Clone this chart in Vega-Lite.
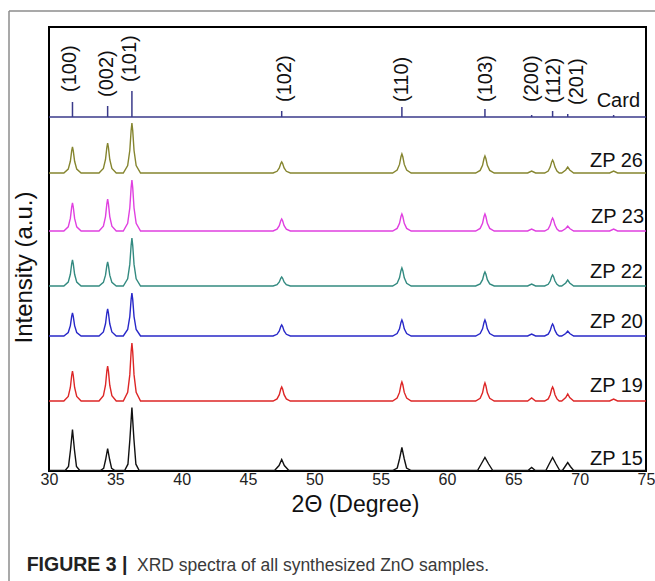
{
  "$schema": "https://vega.github.io/schema/vega-lite/v6.json",
  "width": 597,
  "height": 444,
  "autosize": {"type": "none"},
  "padding": {"left": 49, "top": 27, "right": 9, "bottom": 110},
  "background": "white",
  "config": {"view": {"stroke": "#000", "strokeWidth": 2}, "font": "Liberation Sans"},
  "datasets": {
    "one": [{"k": 1}],
    "traces": [
      {"s":"ZP 26","x":30,"y":298},{"s":"ZP 26","x":31.12,"y":298},{"s":"ZP 26","x":31.45,"y":301.9},{"s":"ZP 26","x":31.61,"y":309.7},{"s":"ZP 26","x":31.71,"y":320.1},{"s":"ZP 26","x":31.77,"y":324},{"s":"ZP 26","x":31.83,"y":320.1},{"s":"ZP 26","x":31.93,"y":309.7},{"s":"ZP 26","x":32.09,"y":301.9},{"s":"ZP 26","x":32.42,"y":298},
      {"s":"ZP 26","x":33.77,"y":298},{"s":"ZP 26","x":34.1,"y":302.5},{"s":"ZP 26","x":34.26,"y":311.5},{"s":"ZP 26","x":34.36,"y":323.5},{"s":"ZP 26","x":34.42,"y":328},{"s":"ZP 26","x":34.48,"y":323.5},{"s":"ZP 26","x":34.58,"y":311.5},{"s":"ZP 26","x":34.74,"y":302.5},{"s":"ZP 26","x":35.07,"y":298},
      {"s":"ZP 26","x":35.6,"y":298},{"s":"ZP 26","x":35.93,"y":305.5},{"s":"ZP 26","x":36.09,"y":320.5},{"s":"ZP 26","x":36.19,"y":340.5},{"s":"ZP 26","x":36.25,"y":348},{"s":"ZP 26","x":36.31,"y":340.5},{"s":"ZP 26","x":36.41,"y":320.5},{"s":"ZP 26","x":36.57,"y":305.5},{"s":"ZP 26","x":36.9,"y":298},
      {"s":"ZP 26","x":46.89,"y":298},{"s":"ZP 26","x":47.19,"y":299.7},{"s":"ZP 26","x":47.36,"y":303},{"s":"ZP 26","x":47.47,"y":307.4},{"s":"ZP 26","x":47.54,"y":309},{"s":"ZP 26","x":47.61,"y":307.4},{"s":"ZP 26","x":47.72,"y":303},{"s":"ZP 26","x":47.89,"y":299.7},{"s":"ZP 26","x":48.19,"y":298},
      {"s":"ZP 26","x":55.9,"y":298},{"s":"ZP 26","x":56.24,"y":300.9},{"s":"ZP 26","x":56.42,"y":306.6},{"s":"ZP 26","x":56.53,"y":314.2},{"s":"ZP 26","x":56.6,"y":317},{"s":"ZP 26","x":56.67,"y":314.2},{"s":"ZP 26","x":56.78,"y":306.6},{"s":"ZP 26","x":56.96,"y":300.9},{"s":"ZP 26","x":57.3,"y":298},
      {"s":"ZP 26","x":62.16,"y":298},{"s":"ZP 26","x":62.5,"y":300.6},{"s":"ZP 26","x":62.68,"y":305.7},{"s":"ZP 26","x":62.79,"y":312.5},{"s":"ZP 26","x":62.86,"y":315},{"s":"ZP 26","x":62.93,"y":312.5},{"s":"ZP 26","x":63.04,"y":305.7},{"s":"ZP 26","x":63.22,"y":300.6},{"s":"ZP 26","x":63.56,"y":298},
      {"s":"ZP 26","x":66.08,"y":298},{"s":"ZP 26","x":66.38,"y":300},{"s":"ZP 26","x":66.68,"y":298},
      {"s":"ZP 26","x":67.36,"y":298},{"s":"ZP 26","x":67.63,"y":300},{"s":"ZP 26","x":67.78,"y":303.9},{"s":"ZP 26","x":67.89,"y":309.1},{"s":"ZP 26","x":67.96,"y":311},{"s":"ZP 26","x":68.03,"y":309.1},{"s":"ZP 26","x":68.14,"y":303.9},{"s":"ZP 26","x":68.29,"y":300},{"s":"ZP 26","x":68.46,"y":298},
      {"s":"ZP 26","x":68.65,"y":298},{"s":"ZP 26","x":68.95,"y":301},{"s":"ZP 26","x":69.1,"y":304},{"s":"ZP 26","x":69.25,"y":301},{"s":"ZP 26","x":69.55,"y":298},
      {"s":"ZP 26","x":72.26,"y":298},{"s":"ZP 26","x":72.56,"y":300},{"s":"ZP 26","x":72.86,"y":298},{"s":"ZP 26","x":75,"y":298},

      {"s":"ZP 23","x":30,"y":240},{"s":"ZP 23","x":31.12,"y":240},{"s":"ZP 23","x":31.45,"y":244.2},{"s":"ZP 23","x":31.61,"y":252.6},{"s":"ZP 23","x":31.71,"y":263.8},{"s":"ZP 23","x":31.77,"y":268},{"s":"ZP 23","x":31.83,"y":263.8},{"s":"ZP 23","x":31.93,"y":252.6},{"s":"ZP 23","x":32.09,"y":244.2},{"s":"ZP 23","x":32.42,"y":240},
      {"s":"ZP 23","x":33.77,"y":240},{"s":"ZP 23","x":34.1,"y":244.8},{"s":"ZP 23","x":34.26,"y":254.4},{"s":"ZP 23","x":34.36,"y":267.2},{"s":"ZP 23","x":34.42,"y":272},{"s":"ZP 23","x":34.48,"y":267.2},{"s":"ZP 23","x":34.58,"y":254.4},{"s":"ZP 23","x":34.74,"y":244.8},{"s":"ZP 23","x":35.07,"y":240},
      {"s":"ZP 23","x":35.6,"y":240},{"s":"ZP 23","x":35.93,"y":247.7},{"s":"ZP 23","x":36.09,"y":263},{"s":"ZP 23","x":36.19,"y":283.4},{"s":"ZP 23","x":36.25,"y":291},{"s":"ZP 23","x":36.31,"y":283.4},{"s":"ZP 23","x":36.41,"y":263},{"s":"ZP 23","x":36.57,"y":247.7},{"s":"ZP 23","x":36.9,"y":240},
      {"s":"ZP 23","x":46.89,"y":240},{"s":"ZP 23","x":47.19,"y":241.8},{"s":"ZP 23","x":47.36,"y":245.4},{"s":"ZP 23","x":47.47,"y":250.2},{"s":"ZP 23","x":47.54,"y":252},{"s":"ZP 23","x":47.61,"y":250.2},{"s":"ZP 23","x":47.72,"y":245.4},{"s":"ZP 23","x":47.89,"y":241.8},{"s":"ZP 23","x":48.19,"y":240},
      {"s":"ZP 23","x":55.9,"y":240},{"s":"ZP 23","x":56.24,"y":242.6},{"s":"ZP 23","x":56.42,"y":247.7},{"s":"ZP 23","x":56.53,"y":254.5},{"s":"ZP 23","x":56.6,"y":257},{"s":"ZP 23","x":56.67,"y":254.5},{"s":"ZP 23","x":56.78,"y":247.7},{"s":"ZP 23","x":56.96,"y":242.6},{"s":"ZP 23","x":57.3,"y":240},
      {"s":"ZP 23","x":62.16,"y":240},{"s":"ZP 23","x":62.5,"y":242.6},{"s":"ZP 23","x":62.68,"y":247.7},{"s":"ZP 23","x":62.79,"y":254.5},{"s":"ZP 23","x":62.86,"y":257},{"s":"ZP 23","x":62.93,"y":254.5},{"s":"ZP 23","x":63.04,"y":247.7},{"s":"ZP 23","x":63.22,"y":242.6},{"s":"ZP 23","x":63.56,"y":240},
      {"s":"ZP 23","x":66.08,"y":240},{"s":"ZP 23","x":66.38,"y":242},{"s":"ZP 23","x":66.68,"y":240},
      {"s":"ZP 23","x":67.36,"y":240},{"s":"ZP 23","x":67.63,"y":242},{"s":"ZP 23","x":67.78,"y":245.9},{"s":"ZP 23","x":67.89,"y":251.1},{"s":"ZP 23","x":67.96,"y":253},{"s":"ZP 23","x":68.03,"y":251.1},{"s":"ZP 23","x":68.14,"y":245.9},{"s":"ZP 23","x":68.29,"y":242},{"s":"ZP 23","x":68.46,"y":240},
      {"s":"ZP 23","x":68.65,"y":240},{"s":"ZP 23","x":68.95,"y":242.5},{"s":"ZP 23","x":69.1,"y":245},{"s":"ZP 23","x":69.25,"y":242.5},{"s":"ZP 23","x":69.55,"y":240},
      {"s":"ZP 23","x":72.26,"y":240},{"s":"ZP 23","x":72.56,"y":242},{"s":"ZP 23","x":72.86,"y":240},{"s":"ZP 23","x":75,"y":240},

      {"s":"ZP 22","x":30,"y":185},{"s":"ZP 22","x":31.12,"y":185},{"s":"ZP 22","x":31.45,"y":188.9},{"s":"ZP 22","x":31.61,"y":196.7},{"s":"ZP 22","x":31.71,"y":207.1},{"s":"ZP 22","x":31.77,"y":211},{"s":"ZP 22","x":31.83,"y":207.1},{"s":"ZP 22","x":31.93,"y":196.7},{"s":"ZP 22","x":32.09,"y":188.9},{"s":"ZP 22","x":32.42,"y":185},
      {"s":"ZP 22","x":33.77,"y":185},{"s":"ZP 22","x":34.1,"y":188.6},{"s":"ZP 22","x":34.26,"y":195.8},{"s":"ZP 22","x":34.36,"y":205.4},{"s":"ZP 22","x":34.42,"y":209},{"s":"ZP 22","x":34.48,"y":205.4},{"s":"ZP 22","x":34.58,"y":195.8},{"s":"ZP 22","x":34.74,"y":188.6},{"s":"ZP 22","x":35.07,"y":185},
      {"s":"ZP 22","x":35.6,"y":185},{"s":"ZP 22","x":35.93,"y":192.2},{"s":"ZP 22","x":36.09,"y":206.6},{"s":"ZP 22","x":36.19,"y":225.8},{"s":"ZP 22","x":36.25,"y":233},{"s":"ZP 22","x":36.31,"y":225.8},{"s":"ZP 22","x":36.41,"y":206.6},{"s":"ZP 22","x":36.57,"y":192.2},{"s":"ZP 22","x":36.9,"y":185},
      {"s":"ZP 22","x":46.89,"y":185},{"s":"ZP 22","x":47.19,"y":186.4},{"s":"ZP 22","x":47.36,"y":189.1},{"s":"ZP 22","x":47.47,"y":192.7},{"s":"ZP 22","x":47.54,"y":194},{"s":"ZP 22","x":47.61,"y":192.7},{"s":"ZP 22","x":47.72,"y":189.1},{"s":"ZP 22","x":47.89,"y":186.4},{"s":"ZP 22","x":48.19,"y":185},
      {"s":"ZP 22","x":55.9,"y":185},{"s":"ZP 22","x":56.24,"y":187.7},{"s":"ZP 22","x":56.42,"y":193.1},{"s":"ZP 22","x":56.53,"y":200.3},{"s":"ZP 22","x":56.6,"y":203},{"s":"ZP 22","x":56.67,"y":200.3},{"s":"ZP 22","x":56.78,"y":193.1},{"s":"ZP 22","x":56.96,"y":187.7},{"s":"ZP 22","x":57.3,"y":185},
      {"s":"ZP 22","x":62.16,"y":185},{"s":"ZP 22","x":62.5,"y":187.1},{"s":"ZP 22","x":62.68,"y":191.3},{"s":"ZP 22","x":62.79,"y":196.9},{"s":"ZP 22","x":62.86,"y":199},{"s":"ZP 22","x":62.93,"y":196.9},{"s":"ZP 22","x":63.04,"y":191.3},{"s":"ZP 22","x":63.22,"y":187.1},{"s":"ZP 22","x":63.56,"y":185},
      {"s":"ZP 22","x":66.08,"y":185},{"s":"ZP 22","x":66.38,"y":187},{"s":"ZP 22","x":66.68,"y":185},
      {"s":"ZP 22","x":67.36,"y":185},{"s":"ZP 22","x":67.63,"y":186.7},{"s":"ZP 22","x":67.78,"y":190},{"s":"ZP 22","x":67.89,"y":194.4},{"s":"ZP 22","x":67.96,"y":196},{"s":"ZP 22","x":68.03,"y":194.4},{"s":"ZP 22","x":68.14,"y":190},{"s":"ZP 22","x":68.29,"y":186.7},{"s":"ZP 22","x":68.46,"y":185},
      {"s":"ZP 22","x":68.65,"y":185},{"s":"ZP 22","x":68.95,"y":188},{"s":"ZP 22","x":69.1,"y":191},{"s":"ZP 22","x":69.25,"y":188},{"s":"ZP 22","x":69.55,"y":185},
      {"s":"ZP 22","x":75,"y":185},

      {"s":"ZP 20","x":30,"y":135},{"s":"ZP 20","x":31.12,"y":135},{"s":"ZP 20","x":31.45,"y":138.5},{"s":"ZP 20","x":31.61,"y":145.4},{"s":"ZP 20","x":31.71,"y":154.6},{"s":"ZP 20","x":31.77,"y":158},{"s":"ZP 20","x":31.83,"y":154.6},{"s":"ZP 20","x":31.93,"y":145.4},{"s":"ZP 20","x":32.09,"y":138.5},{"s":"ZP 20","x":32.42,"y":135},
      {"s":"ZP 20","x":33.77,"y":135},{"s":"ZP 20","x":34.1,"y":139.1},{"s":"ZP 20","x":34.26,"y":147.2},{"s":"ZP 20","x":34.36,"y":158},{"s":"ZP 20","x":34.42,"y":162},{"s":"ZP 20","x":34.48,"y":158},{"s":"ZP 20","x":34.58,"y":147.2},{"s":"ZP 20","x":34.74,"y":139.1},{"s":"ZP 20","x":35.07,"y":135},
      {"s":"ZP 20","x":35.6,"y":135},{"s":"ZP 20","x":35.93,"y":141.5},{"s":"ZP 20","x":36.09,"y":154.4},{"s":"ZP 20","x":36.19,"y":171.6},{"s":"ZP 20","x":36.25,"y":178},{"s":"ZP 20","x":36.31,"y":171.6},{"s":"ZP 20","x":36.41,"y":154.4},{"s":"ZP 20","x":36.57,"y":141.5},{"s":"ZP 20","x":36.9,"y":135},
      {"s":"ZP 20","x":46.89,"y":135},{"s":"ZP 20","x":47.19,"y":136.7},{"s":"ZP 20","x":47.36,"y":140},{"s":"ZP 20","x":47.47,"y":144.4},{"s":"ZP 20","x":47.54,"y":146},{"s":"ZP 20","x":47.61,"y":144.4},{"s":"ZP 20","x":47.72,"y":140},{"s":"ZP 20","x":47.89,"y":136.7},{"s":"ZP 20","x":48.19,"y":135},
      {"s":"ZP 20","x":55.9,"y":135},{"s":"ZP 20","x":56.24,"y":137.4},{"s":"ZP 20","x":56.42,"y":142.2},{"s":"ZP 20","x":56.53,"y":148.6},{"s":"ZP 20","x":56.6,"y":151},{"s":"ZP 20","x":56.67,"y":148.6},{"s":"ZP 20","x":56.78,"y":142.2},{"s":"ZP 20","x":56.96,"y":137.4},{"s":"ZP 20","x":57.3,"y":135},
      {"s":"ZP 20","x":62.16,"y":135},{"s":"ZP 20","x":62.5,"y":137.4},{"s":"ZP 20","x":62.68,"y":142.2},{"s":"ZP 20","x":62.79,"y":148.6},{"s":"ZP 20","x":62.86,"y":151},{"s":"ZP 20","x":62.93,"y":148.6},{"s":"ZP 20","x":63.04,"y":142.2},{"s":"ZP 20","x":63.22,"y":137.4},{"s":"ZP 20","x":63.56,"y":135},
      {"s":"ZP 20","x":66.08,"y":135},{"s":"ZP 20","x":66.38,"y":137},{"s":"ZP 20","x":66.68,"y":135},
      {"s":"ZP 20","x":67.36,"y":135},{"s":"ZP 20","x":67.63,"y":136.8},{"s":"ZP 20","x":67.78,"y":140.4},{"s":"ZP 20","x":67.89,"y":145.2},{"s":"ZP 20","x":67.96,"y":147},{"s":"ZP 20","x":68.03,"y":145.2},{"s":"ZP 20","x":68.14,"y":140.4},{"s":"ZP 20","x":68.29,"y":136.8},{"s":"ZP 20","x":68.46,"y":135},
      {"s":"ZP 20","x":68.65,"y":135},{"s":"ZP 20","x":68.95,"y":137.5},{"s":"ZP 20","x":69.1,"y":140},{"s":"ZP 20","x":69.25,"y":137.5},{"s":"ZP 20","x":69.55,"y":135},
      {"s":"ZP 20","x":75,"y":135},

      {"s":"ZP 19","x":30,"y":70},{"s":"ZP 19","x":31.12,"y":70},{"s":"ZP 19","x":31.45,"y":74.5},{"s":"ZP 19","x":31.61,"y":83.5},{"s":"ZP 19","x":31.71,"y":95.5},{"s":"ZP 19","x":31.77,"y":100},{"s":"ZP 19","x":31.83,"y":95.5},{"s":"ZP 19","x":31.93,"y":83.5},{"s":"ZP 19","x":32.09,"y":74.5},{"s":"ZP 19","x":32.42,"y":70},
      {"s":"ZP 19","x":33.77,"y":70},{"s":"ZP 19","x":34.1,"y":75.3},{"s":"ZP 19","x":34.26,"y":85.8},{"s":"ZP 19","x":34.36,"y":99.8},{"s":"ZP 19","x":34.42,"y":105},{"s":"ZP 19","x":34.48,"y":99.8},{"s":"ZP 19","x":34.58,"y":85.8},{"s":"ZP 19","x":34.74,"y":75.3},{"s":"ZP 19","x":35.07,"y":70},
      {"s":"ZP 19","x":35.6,"y":70},{"s":"ZP 19","x":35.93,"y":78.7},{"s":"ZP 19","x":36.09,"y":96.1},{"s":"ZP 19","x":36.19,"y":119.3},{"s":"ZP 19","x":36.25,"y":128},{"s":"ZP 19","x":36.31,"y":119.3},{"s":"ZP 19","x":36.41,"y":96.1},{"s":"ZP 19","x":36.57,"y":78.7},{"s":"ZP 19","x":36.9,"y":70},
      {"s":"ZP 19","x":46.89,"y":70},{"s":"ZP 19","x":47.19,"y":72.1},{"s":"ZP 19","x":47.36,"y":76.3},{"s":"ZP 19","x":47.47,"y":81.9},{"s":"ZP 19","x":47.54,"y":84},{"s":"ZP 19","x":47.61,"y":81.9},{"s":"ZP 19","x":47.72,"y":76.3},{"s":"ZP 19","x":47.89,"y":72.1},{"s":"ZP 19","x":48.19,"y":70},
      {"s":"ZP 19","x":55.9,"y":70},{"s":"ZP 19","x":56.24,"y":72.9},{"s":"ZP 19","x":56.42,"y":78.6},{"s":"ZP 19","x":56.53,"y":86.2},{"s":"ZP 19","x":56.6,"y":89},{"s":"ZP 19","x":56.67,"y":86.2},{"s":"ZP 19","x":56.78,"y":78.6},{"s":"ZP 19","x":56.96,"y":72.9},{"s":"ZP 19","x":57.3,"y":70},
      {"s":"ZP 19","x":62.16,"y":70},{"s":"ZP 19","x":62.5,"y":72.7},{"s":"ZP 19","x":62.68,"y":78.1},{"s":"ZP 19","x":62.79,"y":85.3},{"s":"ZP 19","x":62.86,"y":88},{"s":"ZP 19","x":62.93,"y":85.3},{"s":"ZP 19","x":63.04,"y":78.1},{"s":"ZP 19","x":63.22,"y":72.7},{"s":"ZP 19","x":63.56,"y":70},
      {"s":"ZP 19","x":66.08,"y":70},{"s":"ZP 19","x":66.38,"y":73},{"s":"ZP 19","x":66.68,"y":70},
      {"s":"ZP 19","x":67.36,"y":70},{"s":"ZP 19","x":67.63,"y":72.1},{"s":"ZP 19","x":67.78,"y":76.3},{"s":"ZP 19","x":67.89,"y":81.9},{"s":"ZP 19","x":67.96,"y":84},{"s":"ZP 19","x":68.03,"y":81.9},{"s":"ZP 19","x":68.14,"y":76.3},{"s":"ZP 19","x":68.29,"y":72.1},{"s":"ZP 19","x":68.46,"y":70},
      {"s":"ZP 19","x":68.65,"y":70},{"s":"ZP 19","x":68.95,"y":73.5},{"s":"ZP 19","x":69.1,"y":77},{"s":"ZP 19","x":69.25,"y":73.5},{"s":"ZP 19","x":69.55,"y":70},
      {"s":"ZP 19","x":72.26,"y":70},{"s":"ZP 19","x":72.56,"y":72},{"s":"ZP 19","x":72.86,"y":70},{"s":"ZP 19","x":75,"y":70},

      {"s":"ZP 15","x":30,"y":0.5},{"s":"ZP 15","x":31.22,"y":0.5},{"s":"ZP 15","x":31.47,"y":4.6},{"s":"ZP 15","x":31.62,"y":21},{"s":"ZP 15","x":31.77,"y":41.5},{"s":"ZP 15","x":31.92,"y":21},{"s":"ZP 15","x":32.07,"y":4.6},{"s":"ZP 15","x":32.32,"y":0.5},
      {"s":"ZP 15","x":33.87,"y":0.5},{"s":"ZP 15","x":34.12,"y":2.7},{"s":"ZP 15","x":34.27,"y":11.5},{"s":"ZP 15","x":34.42,"y":22.5},{"s":"ZP 15","x":34.57,"y":11.5},{"s":"ZP 15","x":34.72,"y":2.7},{"s":"ZP 15","x":34.97,"y":0.5},
      {"s":"ZP 15","x":35.7,"y":0.5},{"s":"ZP 15","x":35.95,"y":6.8},{"s":"ZP 15","x":36.1,"y":32},{"s":"ZP 15","x":36.25,"y":63.5},{"s":"ZP 15","x":36.4,"y":32},{"s":"ZP 15","x":36.55,"y":6.8},{"s":"ZP 15","x":36.8,"y":0.5},
      {"s":"ZP 15","x":47.0,"y":0.5},{"s":"ZP 15","x":47.34,"y":5.5},{"s":"ZP 15","x":47.54,"y":11.5},{"s":"ZP 15","x":47.74,"y":5.5},{"s":"ZP 15","x":48.08,"y":0.5},
      {"s":"ZP 15","x":55.9,"y":0.5},{"s":"ZP 15","x":56.25,"y":3},{"s":"ZP 15","x":56.42,"y":12},{"s":"ZP 15","x":56.6,"y":23.5},{"s":"ZP 15","x":56.78,"y":12},{"s":"ZP 15","x":56.95,"y":3},{"s":"ZP 15","x":57.3,"y":0.5},
      {"s":"ZP 15","x":62.3,"y":0.5},{"s":"ZP 15","x":62.58,"y":7},{"s":"ZP 15","x":62.86,"y":13.5},{"s":"ZP 15","x":63.14,"y":7},{"s":"ZP 15","x":63.45,"y":0.5},
      {"s":"ZP 15","x":66.1,"y":0.5},{"s":"ZP 15","x":66.38,"y":3.5},{"s":"ZP 15","x":66.66,"y":0.5},
      {"s":"ZP 15","x":67.45,"y":0.5},{"s":"ZP 15","x":67.7,"y":7},{"s":"ZP 15","x":67.96,"y":13.5},{"s":"ZP 15","x":68.22,"y":7},{"s":"ZP 15","x":68.5,"y":0.5},
      {"s":"ZP 15","x":68.7,"y":0.5},{"s":"ZP 15","x":68.9,"y":4.5},{"s":"ZP 15","x":69.1,"y":8.5},{"s":"ZP 15","x":69.3,"y":4.5},{"s":"ZP 15","x":69.55,"y":0.5},
      {"s":"ZP 15","x":75,"y":0.5}
    ],
    "card": [
      {"hkl":"(100)","x":31.77,"base":354,"top":369},{"hkl":"(002)","x":34.42,"base":354,"top":365},{"hkl":"(101)","x":36.25,"base":354,"top":380},
      {"hkl":"(102)","x":47.54,"base":354,"top":360},{"hkl":"(110)","x":56.6,"base":354,"top":364},{"hkl":"(103)","x":62.86,"base":354,"top":362},
      {"hkl":"(200)","x":66.38,"base":354,"top":356},{"hkl":"(112)","x":67.96,"base":354,"top":360},{"hkl":"(201)","x":69.1,"base":354,"top":357},
      {"hkl":"(004)","x":72.56,"base":354,"top":356}
    ],
    "hkl": [
      {"t":"(100)","x":31.58,"y":379},{"t":"(002)","x":34.38,"y":374},{"t":"(101)","x":36.14,"y":389},
      {"t":"(102)","x":47.79,"y":369},{"t":"(110)","x":56.6,"y":369},{"t":"(103)","x":62.95,"y":369},
      {"t":"(200)","x":66.4,"y":369},{"t":"(112)","x":68.05,"y":368},{"t":"(201)","x":69.8,"y":366}
    ],
    "names": [
      {"t":"Card","x":74.55,"y":364},{"t":"ZP 26","x":74.77,"y":304},{"t":"ZP 23","x":74.85,"y":248},
      {"t":"ZP 22","x":74.77,"y":193},{"t":"ZP 20","x":74.77,"y":143},{"t":"ZP 19","x":74.77,"y":79},
      {"t":"ZP 15","x":74.77,"y":6}
    ]
  },
  "layer": [
    {
      "data": {"name": "one"},
      "mark": {"type": "rule", "color": "#8c8c8c", "strokeWidth": 1.5},
      "encoding": {
        "x": {"datum": 26.985, "type": "quantitative", "scale": {"domain": [30, 75], "nice": false, "zero": false}},
        "x2": {"datum": 75.7},
        "y": {"datum": 460, "type": "quantitative", "scale": {"domain": [0, 444], "nice": false, "zero": false}}
      }
    },
    {
      "data": {"name": "one"},
      "mark": {"type": "rule", "color": "#8c8c8c", "strokeWidth": 1.5},
      "encoding": {
        "x": {"datum": 26.985, "type": "quantitative", "scale": {"domain": [30, 75], "nice": false, "zero": false}},
        "y": {"datum": 460, "type": "quantitative", "scale": {"domain": [0, 444], "nice": false, "zero": false}},
        "y2": {"datum": -112}
      }
    },
    {
      "data": {"name": "traces"},
      "mark": {"type": "line", "strokeWidth": 1.4, "clip": true},
      "encoding": {
        "x": {"field": "x", "type": "quantitative",
          "scale": {"domain": [30, 75], "nice": false, "zero": false},
          "axis": {"title": "2Θ (Degree)", "values": [30,35,40,45,50,55,60,65,70,75], "format": "d",
            "grid": false, "ticks": false, "domain": false, "labelFontSize": 16, "labelColor": "#222",
            "labelPadding": 0, "labelFlush": false, "labelOverlap": false, "labelFont": "Liberation Sans",
            "titleFont": "Liberation Sans", "titleFontSize": 23, "titleFontWeight": "normal", "titleColor": "#111",
            "titlePadding": 6, "titleX": 306}},
        "y": {"field": "y", "type": "quantitative",
          "scale": {"domain": [0, 444], "nice": false, "zero": false},
          "axis": {"title": "Intensity (a.u.)", "labels": false, "ticks": false, "domain": false, "grid": false,
            "titleFont": "Liberation Sans", "titleFontSize": 24, "titleFontWeight": "normal", "titleColor": "#111",
            "titlePadding": 13, "titleY": 240}},
        "color": {"field": "s", "type": "nominal", "legend": null,
          "scale": {"domain": ["ZP 26","ZP 23","ZP 22","ZP 20","ZP 19","ZP 15"],
                    "range": ["#85852f","#e040e0","#338a80","#2828c8","#dd2626","#111111"]}}
      }
    },
    {
      "data": {"name": "one"},
      "mark": {"type": "rule", "color": "#3a3a8a", "strokeWidth": 1.5},
      "encoding": {
        "y": {"datum": 354, "type": "quantitative", "scale": {"domain": [0, 444], "nice": false, "zero": false}}
      }
    },
    {
      "data": {"name": "card"},
      "mark": {"type": "rule", "color": "#3a3a8a", "strokeWidth": 1.5},
      "encoding": {
        "x": {"field": "x", "type": "quantitative", "scale": {"domain": [30, 75], "nice": false, "zero": false}},
        "y": {"field": "base", "type": "quantitative", "scale": {"domain": [0, 444], "nice": false, "zero": false}},
        "y2": {"field": "top"}
      }
    },
    {
      "data": {"name": "hkl"},
      "mark": {"type": "text", "angle": 270, "align": "left", "baseline": "middle", "fontSize": 20, "color": "#111", "font": "Liberation Sans"},
      "encoding": {
        "x": {"field": "x", "type": "quantitative", "scale": {"domain": [30, 75], "nice": false, "zero": false}},
        "y": {"field": "y", "type": "quantitative", "scale": {"domain": [0, 444], "nice": false, "zero": false}},
        "text": {"field": "t", "type": "nominal"}
      }
    },
    {
      "data": {"name": "names"},
      "mark": {"type": "text", "align": "right", "baseline": "alphabetic", "fontSize": 20, "color": "#111", "font": "Liberation Sans"},
      "encoding": {
        "x": {"field": "x", "type": "quantitative", "scale": {"domain": [30, 75], "nice": false, "zero": false}},
        "y": {"field": "y", "type": "quantitative", "scale": {"domain": [0, 444], "nice": false, "zero": false}},
        "text": {"field": "t", "type": "nominal"}
      }
    },
    {
      "data": {"name": "one"},
      "mark": {"type": "text", "text": "FIGURE 3 |", "align": "left", "baseline": "alphabetic", "fontSize": 19.5, "fontWeight": "bold", "color": "#222", "font": "Liberation Sans"},
      "encoding": {
        "x": {"datum": 28.32, "type": "quantitative", "scale": {"domain": [30, 75], "nice": false, "zero": false}},
        "y": {"datum": -100, "type": "quantitative", "scale": {"domain": [0, 444], "nice": false, "zero": false}}
      }
    },
    {
      "data": {"name": "one"},
      "mark": {"type": "text", "text": "XRD spectra of all synthesized ZnO samples.", "align": "left", "baseline": "alphabetic", "fontSize": 17.5, "color": "#3a3a3a", "font": "Liberation Sans"},
      "encoding": {
        "x": {"datum": 36.633, "type": "quantitative", "scale": {"domain": [30, 75], "nice": false, "zero": false}},
        "y": {"datum": -100, "type": "quantitative", "scale": {"domain": [0, 444], "nice": false, "zero": false}}
      }
    }
  ]
}
